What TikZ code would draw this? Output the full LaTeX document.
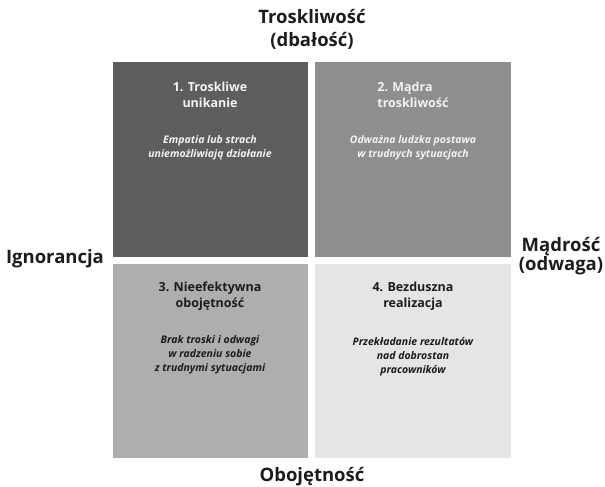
\documentclass[tikz,border=0pt]{standalone}
\usepackage{fontspec}
\setmainfont{Open Sans}
\usetikzlibrary{positioning}
\definecolor{quadA}{HTML}{5E5D5E}
\definecolor{quadB}{HTML}{8E8E8E}
\definecolor{quadC}{HTML}{AFAEAF}
\definecolor{quadD}{HTML}{E5E5E5}
\definecolor{inkLight}{HTML}{F2F2F2}
\definecolor{inkDark}{HTML}{1C1C1C}

\tikzset{
    quad/.style={minimum width=195pt,minimum height=195pt,inner sep=0pt,anchor=north west},
    axislabel/.style={font=\fontsize{18.5}{23}\selectfont\bfseries,text=inkDark,align=center,inner sep=0pt},
    quadtitle/.style={font=\fontsize{12.5}{16.5}\selectfont\bfseries,align=center,inner sep=0pt},
    quadnote/.style={font=\fontsize{10.5}{14}\selectfont\bfseries\itshape,align=center,inner sep=0pt}
}

\begin{document}
\begin{tikzpicture}[x=1pt,y=-1pt]
    \useasboundingbox (0,0) rectangle (605,487);
    % quadrants
    \node[quad,fill=quadA] (q1) at (113,62) {};
    \node[quad,fill=quadB,minimum width=196pt] (q2) at (315,62) {};
    \node[quad,fill=quadC,minimum height=194pt] (q3) at (113,264) {};
    \node[quad,fill=quadD,minimum width=196pt,minimum height=194pt] (q4) at (315,264) {};
    % axis labels
    \node[axislabel] (top) at (312,29) {Troskliwość\\(dbałość)};
    \node[axislabel] (left) at (55,259) {Ignorancja};
    \node[axislabel,font=\fontsize{18.5}{19.5}\selectfont\bfseries] (right) at (561,256) {Mądrość\\(odwaga)};
    \node[axislabel] (bottom) at (312,477) {Obojętność};
    % texts in the quadrants
    \node[quadtitle,text=inkLight] (t1) at (210,95) {1. Troskliwe\\unikanie};
    \node[quadnote,text=inkLight] (n1) at (210,148) {Empatia lub strach\\uniemożliwiają działanie};
    \node[quadtitle,text=inkLight,align=left] (t2) at (413,95) {2. Mądra\\troskliwość};
    \node[quadnote,text=inkLight] (n2) at (413,148) {Odważna ludzka postawa\\w trudnych sytuacjach};
    \node[quadtitle,text=inkDark] (t3) at (210,296) {3. Nieefektywna\\obojętność};
    \node[quadnote,text=inkDark] (n3) at (210,355) {Brak troski i odwagi\\w radzeniu sobie\\z trudnymi sytuacjami};
    \node[quadtitle,text=inkDark] (t4) at (413,296) {4. Bezduszna\\realizacja};
    \node[quadnote,text=inkDark] (n4) at (413,357) {Przekładanie rezultatów\\nad dobrostan\\pracowników};
\end{tikzpicture}
\end{document}
